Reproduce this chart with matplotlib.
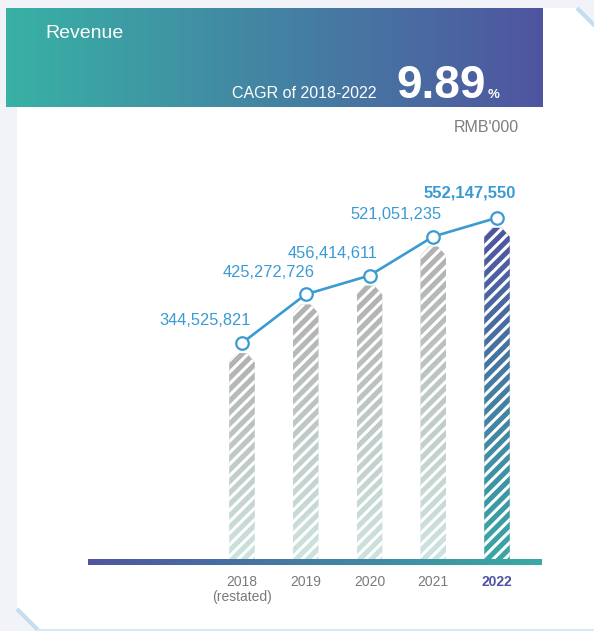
""" Revenue chart with gradient header and striped bars """
import numpy as np
import matplotlib
matplotlib.use("Agg")
import matplotlib.pyplot as plt
from matplotlib.colors import to_rgb
from matplotlib.patches import Polygon
from matplotlib.transforms import IdentityTransform

# ----- data -----
years = ["2018\n(restated)", "2019", "2020", "2021", "2022"]
revenue = [344525821, 425272726, 456414611, 521051235, 552147550]
value_labels = ["344,525,821", "425,272,726", "456,414,611", "521,051,235", "552,147,550"]
cagr_text = "9.89"

plt.rcParams["font.family"] = ["Liberation Sans", "DejaVu Sans"]

W, H = 594, 631
fig = plt.figure(figsize=(W / 100, H / 100), dpi=100)
fig.patch.set_facecolor("#f1f3f8")


def gradient(c0, c1, n=256):
    """ Linear colour ramp from c0 to c1 as an RGB array """
    a, b = np.array(to_rgb(c0)), np.array(to_rgb(c1))
    t = np.linspace(0, 1, n)[:, None]
    return a + (b - a) * t


# Background axes in pixel coordinates (y runs downward)
bg = fig.add_axes([0, 0, 1, 1])
bg.set_xlim(0, W)
bg.set_ylim(H, 0)
bg.axis("off")

# white card with cut corners
card = Polygon([(17, 8), (577, 8), (600, 31), (600, 631), (38, 631), (17, 609)],
               closed=True, facecolor="white", edgecolor="none", zorder=0)
bg.add_patch(card)
bg.plot([577, 596], [8, 27], color="#c4def0", lw=3, zorder=1, solid_capstyle="butt")
bg.plot([17, 39], [609, 631], color="#c4def0", lw=3, zorder=1, solid_capstyle="butt")
bg.plot([38, 594], [630, 630], color="#d7e9f4", lw=1.5, zorder=1)

# header band
head = gradient("#38b1a5", "#4f55a0")[None, :, :]
bg.imshow(head, extent=(6, 543, 107, 8), aspect="auto", zorder=2, interpolation="bilinear")
bg.text(45, 34, "Revenue", color="white", fontsize=14, va="center", ha="left", zorder=3)
bg.text(376, 98, "CAGR of 2018-2022", color="white", fontsize=11.5, va="baseline", ha="right", zorder=3)
bg.text(396, 98, cagr_text, color="white", fontsize=33, fontweight="bold", va="baseline", ha="left", zorder=3)
bg.text(488, 98, "%", color="white", fontsize=9.5, fontweight="bold", va="baseline", ha="left", zorder=3)
bg.text(519, 128, "RMB'000", color="#7d7d7d", fontsize=11.5, va="center", ha="right", zorder=3)

# gradient axis line
axis_line = gradient("#4f55a0", "#38aaa5")[None, :, :]
bg.imshow(axis_line, extent=(88, 542, 565, 559), aspect="auto", zorder=5, interpolation="bilinear")
bg.set_xlim(0, W)
bg.set_ylim(H, 0)

# ----- main data axes -----
ax_bottom_px, ax_top_px = 562, 150
ax = fig.add_axes([88 / W, (H - ax_bottom_px) / H, (542 - 88) / W, (ax_bottom_px - ax_top_px) / H])
ax.patch.set_alpha(0)
ax.set_zorder(4)
x = np.arange(len(years))
px_per_unit = 63.75
xmin, xmax = -(242 - 88) / px_per_unit, 4 + (542 - 497) / px_per_unit
px_per_val = 0.6035 / 1e6
ymin = -(ax_bottom_px - 551) / px_per_val
ymax = (551 - ax_top_px) / px_per_val
ax.set_xlim(xmin, xmax)
ax.set_ylim(ymin, ymax)
for s in ax.spines.values():
    s.set_visible(False)
ax.set_yticks([])
ax.set_xticks(x)
ax.set_xticklabels(years, fontsize=10, color="#7a7a7a", linespacing=1.1,
                   family=["Liberation Sans Narrow", "Liberation Sans"])
ax.tick_params(axis="x", length=0, pad=9)
last = ax.get_xticklabels()[-1]
last.set_color("#4f55a0")
last.set_fontweight("bold")

# striped gradient bars with chamfered tops
half_w = 12.8 / px_per_unit
cham_x = 8 / px_per_unit
cham_y = 9 / px_per_val
gap = 10 / px_per_val
bar_bottom = ymin + 3 / px_per_val
for i, v in enumerate(revenue):
    top = v - gap
    shape = Polygon([(x[i] - half_w, bar_bottom), (x[i] + half_w, bar_bottom),
                     (x[i] + half_w, top - cham_y), (x[i] + half_w - cham_x, top),
                     (x[i] - half_w + cham_x, top), (x[i] - half_w, top - cham_y)],
                    closed=True, facecolor="none", edgecolor="none")
    ax.add_patch(shape)
    if i == len(revenue) - 1:
        cols = gradient("#39a7a5", "#4f54a0")
    else:
        cols = gradient("#cde3df", "#b1b1b1")
    img = ax.imshow(cols[:, None, :], extent=(x[i] - half_w, x[i] + half_w, bar_bottom, top),
                    origin="lower", aspect="auto", zorder=2, interpolation="bilinear")
    img.set_clip_path(shape)

    # white diagonal stripes drawn in pixel space, clipped to the bar
    (x0, y0), (x1, y1) = ax.transData.transform([(x[i] - half_w, bar_bottom), (x[i] + half_w, top)])
    period = 11.5
    for c in np.arange(y0 - (x1 - x0) - period, y1 + period, period):
        ln, = ax.plot([x0 - 5, x1 + 5], [c, c + (x1 - x0) + 10], color="white", lw=2.2,
                      transform=IdentityTransform(), zorder=3)
        ln.set_clip_path(shape)

ax.set_xlim(xmin, xmax)
ax.set_ylim(ymin, ymax)
ax.set_aspect("auto")

# revenue line with hollow markers
ax.plot(x, revenue, color="#3a9bd3", lw=1.9, zorder=5, marker="o", markersize=9,
        markerfacecolor="white", markeredgecolor="#3a9bd3", markeredgewidth=1.6)

for i, (v, lab) in enumerate(zip(revenue, value_labels)):
    bold = i == len(revenue) - 1
    ax.annotate(lab, (x[i], v), xytext=(-20 if bold else -26.5, 18 if bold else 16),
                textcoords="offset points", ha="center", va="center",
                fontsize=12 if bold else 11.8,
                color="#3a9bd3", fontweight="bold" if bold else "normal", zorder=6)

fig.savefig("out.png", dpi=100, facecolor=fig.get_facecolor())
